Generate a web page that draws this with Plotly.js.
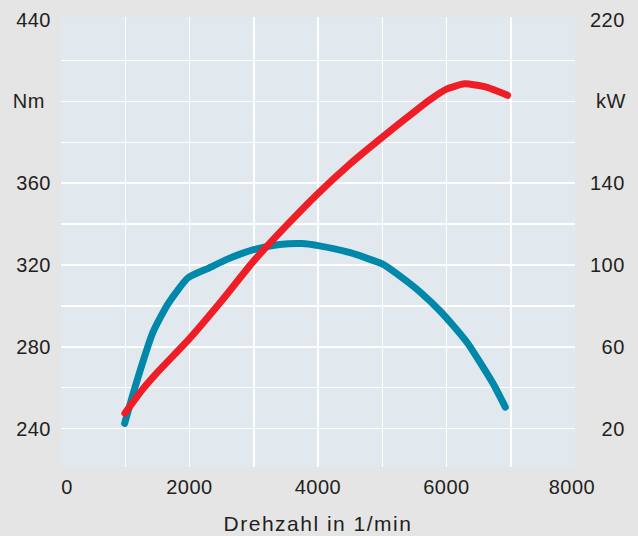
<!DOCTYPE html>
<html>
<head>
<meta charset="utf-8">
<script src="https://cdn.plot.ly/plotly-3.0.1.min.js"></script>
<style>
html, body { margin: 0; padding: 0; background: #e5e5e5; }
#chart { width: 638px; height: 536px; }
path.js-line { stroke-linecap: round !important; stroke-linejoin: round !important; }
.xtitle { letter-spacing: 1.5px; }
.xtick text, .ytick text, .y2tick text { letter-spacing: 0.5px; }
</style>
</head>
<body>
<div id="chart"></div>
<script>
// Torque curve (Nm, left axis)
const torqueRpm = [990, 1150, 1430, 1665, 1975, 2300, 2600, 3000, 3400, 3750, 4000, 4500, 5000, 5300, 5600, 5900, 6100, 6335, 6520, 6725, 6915];
const torqueNm  = [242.5, 260, 287, 301, 313.7, 318.5, 323, 327.5, 330, 330.5, 329.5, 326, 320.5, 314, 306.5, 297.5, 290.5, 281.5, 272.5, 262, 250.5];

// Power curve (kW, right axis)
const powerRpm = [995, 1275, 1500, 2000, 2500, 3000, 3500, 4000, 4500, 5000, 5500, 5750, 6000, 6280, 6620, 6950];
const powerKw  = [27.5, 39.4, 47.5, 64, 82.5, 102, 119, 135, 149.5, 162.5, 175, 181, 186, 188.6, 187, 183];

// Axis ticks
const xTickVals = [0, 2000, 4000, 6000, 8000];
const xTickText = ["\u00a0\u00a00", "2000", "4000", "6000", "8000\u00a0"];
const xGridVals = [1000, 2000, 3000, 4000, 5000, 6000, 7000];
const yLeftTickVals = [240, 280, 320, 360, 400, 440];
const yLeftTickText = ["240", "280", "320", "360", "Nm\u00a0", "440"];
const yRightTickVals = [20, 60, 100, 140, 180, 220];
const yRightTickText = ["\u200720", "\u200760", "100", "140", "\u00a0kW", "220"];
const yGridVals = [240, 260, 280, 300, 320, 340, 360, 380, 400, 420];
const xTitle = "Drehzahl in 1/min";

const xRange = [0, 8000];
const yRange = [221.2, 441.3];
const y2Range = [yRange[0] - 220, yRange[1] - 220];

const font = { family: "Liberation Sans, Arial, sans-serif", size: 20, color: "#231f20" };

const traces = [
  { x: [], y: [], xaxis: "x2", yaxis: "y3", showlegend: false, hoverinfo: "skip", mode: "lines" },
  { x: torqueRpm, y: torqueNm, mode: "lines", name: "Drehmoment",
    line: { color: "#0088ab", width: 7, shape: "spline", smoothing: 0.5 }, xaxis: "x", yaxis: "y" },
  { x: powerRpm, y: powerKw, mode: "lines", name: "Leistung",
    line: { color: "#ee1d26", width: 7, shape: "spline", smoothing: 0.5 }, xaxis: "x", yaxis: "y2" }
];

const layout = {
  width: 638, height: 536,
  margin: { l: 61, r: 63, t: 17, b: 69 },
  paper_bgcolor: "#e5e5e5",
  plot_bgcolor: "#e1e8ee",
  showlegend: false,
  font: font,
  xaxis: {
    range: xRange, tickmode: "array", tickvals: xTickVals, ticktext: xTickText,
    showgrid: false, zeroline: false, showline: false, ticks: "",
    ticklabelstandoff: 6, tickfont: font,
    title: { text: xTitle, font: { family: font.family, size: 21, color: font.color }, standoff: 19 }
  },
  xaxis2: {
    overlaying: "x", range: xRange, tickmode: "array", tickvals: xGridVals,
    showgrid: true, gridcolor: "#ffffff", gridwidth: 1.5, showticklabels: false,
    zeroline: false, showline: false, ticks: ""
  },
  yaxis: {
    range: yRange, tickmode: "array", tickvals: yLeftTickVals, ticktext: yLeftTickText,
    showgrid: false, zeroline: false, showline: false, ticks: "",
    ticklabelstandoff: 9, tickfont: font
  },
  yaxis2: {
    overlaying: "y", side: "right", range: y2Range, tickmode: "array",
    tickvals: yRightTickVals, ticktext: yRightTickText,
    showgrid: false, zeroline: false, showline: false, ticks: "",
    ticklabelstandoff: 14, tickfont: font
  },
  yaxis3: {
    overlaying: "y", range: yRange, tickmode: "array", tickvals: yGridVals,
    showgrid: true, gridcolor: "#ffffff", gridwidth: 1.5, showticklabels: false,
    zeroline: false, showline: false, ticks: ""
  }
};

Plotly.newPlot("chart", traces, layout, { staticPlot: true, displayModeBar: false });
</script>
</body>
</html>
